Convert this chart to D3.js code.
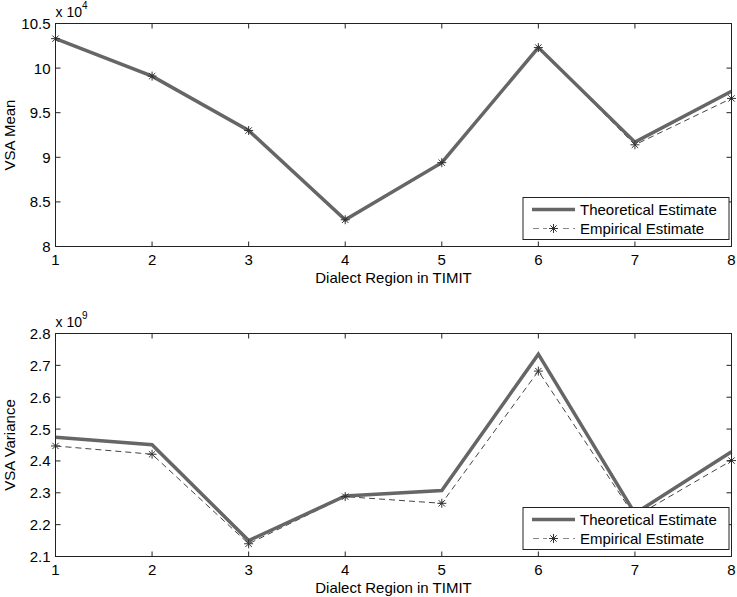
<!DOCTYPE html>
<html>
<head>
<meta charset="utf-8">
<script src="https://cdn.jsdelivr.net/npm/d3@7"></script>
<style>
  body { margin: 0; background: #fff; }
  text { font-family: "Liberation Sans", Arial, sans-serif; fill: #000; }
</style>
</head>
<body>
<div id="chart"></div>
<script>
// Dialect regions in TIMIT
const regions = [1, 2, 3, 4, 5, 6, 7, 8];

// VSA mean (x 10^4)
const meanTheoretical = [10.33, 9.91, 9.30, 8.30, 8.94, 10.23, 9.17, 9.74];
const meanEmpirical   = [10.33, 9.91, 9.30, 8.30, 8.94, 10.23, 9.14, 9.66];

// VSA variance (x 10^9)
const varTheoretical = [2.474, 2.451, 2.150, 2.290, 2.307, 2.735, 2.235, 2.429];
const varEmpirical   = [2.447, 2.421, 2.140, 2.288, 2.267, 2.682, 2.225, 2.401];

const meanTicks = [8, 8.5, 9, 9.5, 10, 10.5];
const varTicks  = [2.1, 2.2, 2.3, 2.4, 2.5, 2.6, 2.7, 2.8];

const width = 737, height = 597;
const FS = "15px";
const svg = d3.select("#chart").append("svg")
  .attr("width", width).attr("height", height);

const x = d3.scaleLinear().domain([1, 8]).range([55.5, 731.5]);

const COLOR_THEO = "#666";
const COLOR_EMP  = "#444";

function asterisk(r) {
  const a = r * Math.SQRT1_2;
  return `M${-r},0L${r},0M0,${-r}L0,${r}M${-a},${-a}L${a},${a}M${-a},${a}L${a},${-a}`;
}

function panel({ top, bottom, domain, ticks, fmt, theo, emp, ylabel, exp, legendY }) {
  const y = d3.scaleLinear().domain(domain).range([bottom, top]);
  const g = svg.append("g");
  const [x0, x1] = x.range();

  // data lines
  const line = d3.line().x((d, i) => x(regions[i])).y(d => y(d));
  g.append("path").datum(emp)
    .attr("d", line).attr("fill", "none")
    .attr("stroke", COLOR_EMP).attr("stroke-width", 1)
    .attr("stroke-dasharray", "6,4");
  g.append("path").datum(theo)
    .attr("d", line).attr("fill", "none")
    .attr("stroke", COLOR_THEO).attr("stroke-width", 3.5)
    .attr("stroke-linejoin", "miter");
  g.selectAll(".star").data(emp).join("path")
    .attr("transform", (d, i) => `translate(${x(regions[i])},${y(d)})`)
    .attr("d", asterisk(4.5))
    .attr("stroke", "#333").attr("stroke-width", 1).attr("fill", "none");

  // frame
  g.append("rect")
    .attr("x", x0).attr("y", top)
    .attr("width", x1 - x0).attr("height", bottom - top)
    .attr("fill", "none").attr("stroke", "#222").attr("stroke-width", 1);

  // x ticks (bottom and top, inside)
  regions.forEach(v => {
    g.append("line").attr("x1", x(v)).attr("x2", x(v))
      .attr("y1", bottom).attr("y2", bottom - 5).attr("stroke", "#222");
    g.append("line").attr("x1", x(v)).attr("x2", x(v))
      .attr("y1", top).attr("y2", top + 5).attr("stroke", "#222");
    g.append("text").attr("x", x(v)).attr("y", bottom + 18)
      .attr("text-anchor", "middle").style("font-size", FS)
      .text(v);
  });

  // y ticks (left and right, inside)
  ticks.forEach(v => {
    g.append("line").attr("x1", x0).attr("x2", x0 + 5)
      .attr("y1", y(v)).attr("y2", y(v)).attr("stroke", "#222");
    g.append("line").attr("x1", x1).attr("x2", x1 - 5)
      .attr("y1", y(v)).attr("y2", y(v)).attr("stroke", "#222");
    g.append("text").attr("x", x0 - 5).attr("y", y(v) + 5.5)
      .attr("text-anchor", "end").style("font-size", FS)
      .text(fmt(v));
  });

  // exponent label
  const ex = g.append("text").attr("x", x0).attr("y", top - 7)
    .style("font-size", "14px");
  ex.append("tspan").text("x 10");
  ex.append("tspan").attr("dy", -8).style("font-size", "10px").text(exp);

  // axis labels
  g.append("text")
    .attr("x", (x0 + x1) / 2).attr("y", bottom + 36)
    .attr("text-anchor", "middle").style("font-size", FS)
    .text("Dialect Region in TIMIT");
  g.append("text")
    .attr("transform", `translate(15,${(top + bottom) / 2}) rotate(-90)`)
    .attr("text-anchor", "middle").style("font-size", FS)
    .text(ylabel);

  // legend
  const lg = g.append("g").attr("transform", `translate(523,${legendY})`);
  lg.append("rect").attr("width", 206).attr("height", 42)
    .attr("fill", "#fff").attr("stroke", "#222").attr("stroke-width", 1);
  lg.append("line").attr("x1", 9).attr("x2", 52).attr("y1", 12).attr("y2", 12)
    .attr("stroke", COLOR_THEO).attr("stroke-width", 3.5);
  lg.append("text").attr("x", 57).attr("y", 17.5).style("font-size", FS)
    .text("Theoretical Estimate");
  lg.append("line").attr("x1", 9).attr("x2", 52).attr("y1", 31).attr("y2", 31)
    .attr("stroke", "#888").attr("stroke-width", 1).attr("stroke-dasharray", "6,4")
    .attr("stroke-dashoffset", -1);
  lg.append("rect").attr("x", 24).attr("y", 26).attr("width", 13).attr("height", 10)
    .attr("fill", "#fff");
  lg.append("path").attr("transform", "translate(30.5,31)")
    .attr("d", asterisk(4.5)).attr("stroke", "#333").attr("fill", "none");
  lg.append("text").attr("x", 57).attr("y", 36.5).style("font-size", FS)
    .text("Empirical Estimate");
}

panel({
  top: 23.5, bottom: 246.5, domain: [8, 10.5], ticks: meanTicks,
  fmt: d3.format("~g"), theo: meanTheoretical, emp: meanEmpirical,
  ylabel: "VSA Mean", exp: "4", legendY: 197.5
});

panel({
  top: 333.5, bottom: 556.5, domain: [2.1, 2.8], ticks: varTicks,
  fmt: d3.format(".1f"), theo: varTheoretical, emp: varEmpirical,
  ylabel: "VSA Variance", exp: "9", legendY: 507.5
});
</script>
</body>
</html>
